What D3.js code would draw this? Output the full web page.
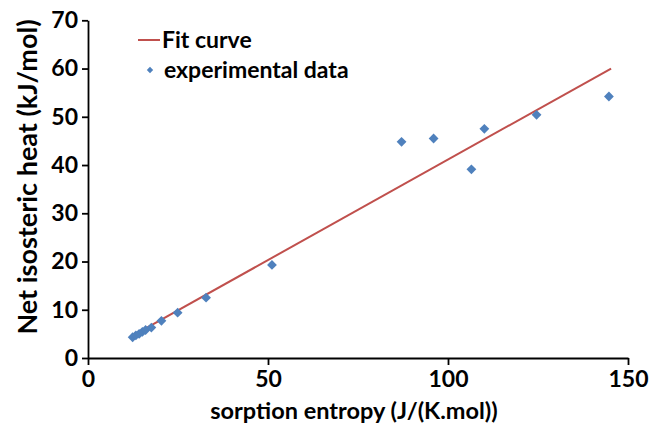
<!DOCTYPE html>
<html>
<head>
<meta charset="utf-8">
<script src="https://cdn.jsdelivr.net/npm/d3@7"></script>
<style>
  html, body { margin: 0; padding: 0; background: #fff; }
  svg text { font-family: Lato, "Open Sans", sans-serif; font-weight: bold; fill: #000; }
</style>
</head>
<body>
<svg id="chart" width="660" height="431"></svg>
<script>
// Sorption entropy (J/(K.mol)) vs net isosteric heat (kJ/mol)
const entropy = [12.4, 13.3, 14.2, 15.1, 16.0, 17.6, 20.4, 24.9, 32.8, 51.1, 87.1, 96.0, 106.5, 110.1, 124.6, 144.7];
const heat    = [4.3, 4.7, 5.0, 5.4, 5.8, 6.3, 7.7, 9.4, 12.5, 19.3, 44.8, 45.5, 39.1, 47.5, 50.4, 54.2];

// Linear fit endpoints
const fitEntropy = [12.3, 145.3];
const fitHeat = [4.6, 60.0];

const xTicks = [0, 50, 100, 150];
const yTicks = [0, 10, 20, 30, 40, 50, 60, 70];

const legendLabels = ["Fit curve", "experimental data"];
const xTitle = "sorption entropy (J/(K.mol))";
const yTitle = "Net isosteric heat (kJ/mol)";

const lineColor = "#C0504D";
const pointColor = "#4F81BD";

const svg = d3.select("#chart");
const x = d3.scaleLinear().domain([0, 150]).range([88, 628]);
const y = d3.scaleLinear().domain([0, 70]).range([358, 20.3]);

// Axes
const xAxis = d3.axisBottom(x).tickValues(xTicks).tickSize(7).tickPadding(6).tickSizeOuter(0);
const yAxis = d3.axisLeft(y).tickValues(yTicks).tickSize(6).tickPadding(4).tickSizeOuter(0);

const gx = svg.append("g").attr("transform", `translate(0,${y(0)})`).call(xAxis);
const gy = svg.append("g").attr("transform", `translate(${x(0)},0)`).call(yAxis);
[gx, gy].forEach(g => {
  g.select(".domain").attr("stroke", "#000").attr("stroke-width", 1.8);
  g.selectAll(".tick line").attr("stroke", "#000").attr("stroke-width", 1.8);
  g.selectAll(".tick text").style("font-size", "23px").style("font-family", "Lato, sans-serif").style("font-weight", "bold").attr("fill", "#000");
});

// Fit line
svg.append("path")
  .datum(fitEntropy.map((e, i) => [e, fitHeat[i]]))
  .attr("fill", "none")
  .attr("stroke", lineColor)
  .attr("stroke-width", 2)
  .attr("d", d3.line().x(d => x(d[0])).y(d => y(d[1])));

// Experimental points as diamonds
const diamond = d3.symbol().type(d3.symbolSquare).size(48);
svg.append("g").selectAll("path")
  .data(entropy.map((e, i) => [e, heat[i]]))
  .join("path")
  .attr("d", diamond)
  .attr("fill", pointColor)
  .attr("transform", d => `translate(${x(d[0])},${y(d[1])}) rotate(45)`);

// Legend
const lg = svg.append("g");
lg.append("line").attr("x1", 138).attr("x2", 160).attr("y1", 40).attr("y2", 40)
  .attr("stroke", lineColor).attr("stroke-width", 2);
lg.append("path").attr("d", d3.symbol().type(d3.symbolSquare).size(20))
  .attr("fill", pointColor).attr("transform", "translate(150,70) rotate(45)");
lg.append("text").attr("x", 162).attr("y", 48).style("font-size", "23px").text(legendLabels[0]);
lg.append("text").attr("x", 164).attr("y", 78).style("font-size", "23px").text(legendLabels[1]);

// Axis titles
svg.append("text").attr("x", 354).attr("y", 419).attr("text-anchor", "middle")
  .style("font-size", "23.5px").text(xTitle);
svg.append("text").attr("transform", "translate(37,177) rotate(-90)").attr("text-anchor", "middle")
  .style("font-size", "27px").text(yTitle);
</script>
</body>
</html>
